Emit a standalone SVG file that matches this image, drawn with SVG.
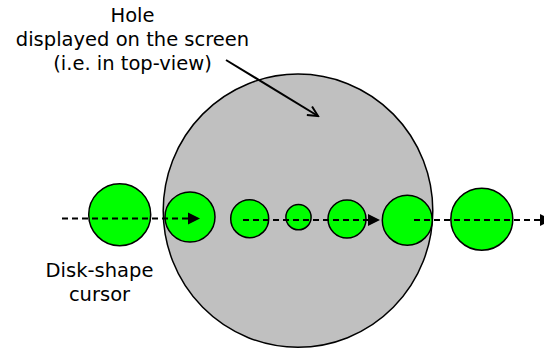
<svg xmlns="http://www.w3.org/2000/svg" width="544" height="349" viewBox="0 0 544 349">
<style>
.t{font-family:"DejaVu Sans","Verdana",sans-serif;font-size:19.5px;fill:#000;text-anchor:middle}
.disk{fill:#00ff00;stroke:#000;stroke-width:1.5}
.dash{fill:none;stroke:#000;stroke-width:2;stroke-dasharray:6 4}
.head{fill:#000;stroke:none}
</style>
<defs>
<marker id="open" markerWidth="14" markerHeight="14" refX="12" refY="7" orient="auto" markerUnits="userSpaceOnUse">
<path d="M2,2 L12,7 L2,12" fill="none" stroke="#000" stroke-width="2"/>
</marker>
</defs>
<g id="hole">
<ellipse cx="298" cy="210.7" rx="134.8" ry="136.6" fill="#c0c0c0" stroke="#000" stroke-width="1.5"/>
</g>
<g id="disks">
<circle id="d1" class="disk" cx="119.7" cy="214.7" r="31"/>
<circle id="d2" class="disk" cx="190" cy="217" r="25"/>
<circle id="d3" class="disk" cx="249.7" cy="218.7" r="19"/>
<circle id="d4" class="disk" cx="298.5" cy="217.2" r="12.6"/>
<circle id="d5" class="disk" cx="347" cy="219" r="19"/>
<circle id="d6" class="disk" cx="407.3" cy="220.2" r="25"/>
<circle id="d7" class="disk" cx="481.8" cy="219.2" r="31"/>
</g>
<g id="connectors">
<line class="dash" x1="62" y1="218.5" x2="188" y2="218.5"/>
<polygon class="head" points="188,212.5 200,218.5 188,224.5"/>
<line class="dash" x1="243" y1="220" x2="368" y2="220"/>
<polygon class="head" points="368,214 380,220 368,226"/>
<line class="dash" x1="414" y1="220" x2="540" y2="220"/>
<polygon class="head" points="540,214 552,220 540,226"/>
<line x1="226" y1="60" x2="318" y2="116" stroke="#000" stroke-width="2" marker-end="url(#open)"/>
</g>
<g id="label-hole">
<text class="t" x="132.5" y="21.7">Hole</text>
<text class="t" x="132.5" y="45.7">displayed on the screen</text>
<text class="t" x="132.5" y="69.7">(i.e. in top-view)</text>
</g>
<g id="label-cursor">
<text class="t" x="99.5" y="277">Disk-shape</text>
<text class="t" x="99.5" y="301">cursor</text>
</g>
</svg>
